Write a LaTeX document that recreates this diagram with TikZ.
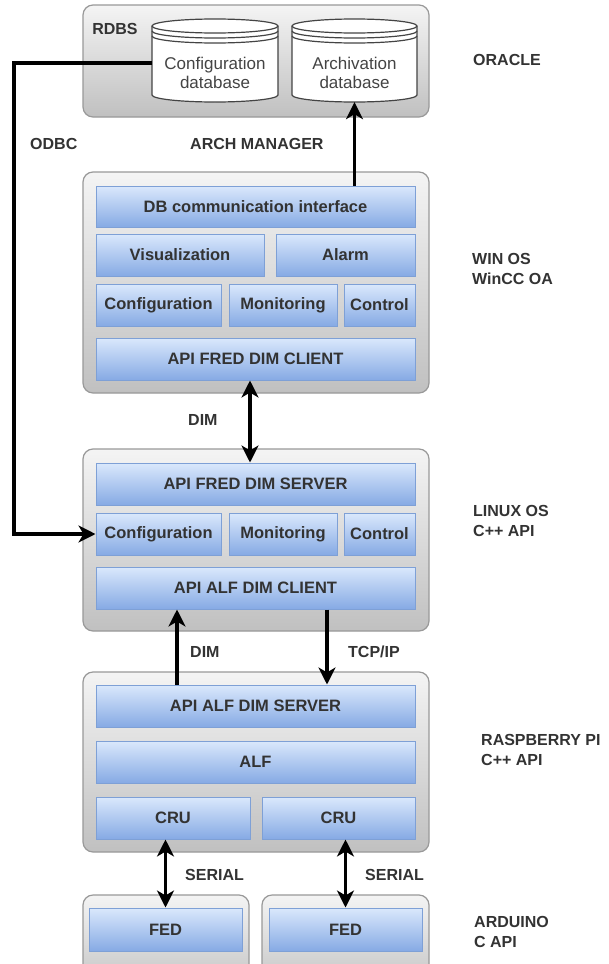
\documentclass[tikz,border=0pt]{standalone}
\usepackage{fontspec}
\setmainfont{Liberation Sans}
\usetikzlibrary{arrows.meta,calc}
\definecolor{txt}{HTML}{333333}
\definecolor{dbtxtc}{HTML}{444444}
\definecolor{obtop}{HTML}{F4F4F4}
\definecolor{obbot}{HTML}{C0C0C0}
\definecolor{obline}{HTML}{999999}
\definecolor{ibtop}{HTML}{DAE8FC}
\definecolor{ibbot}{HTML}{86AAE4}
\definecolor{ibline}{HTML}{7EA0D6}
\definecolor{cylline}{HTML}{444444}
\tikzset{
  ob/.style={draw=obline, line width=1.2pt, rounded corners=10pt, top color=obtop, bottom color=obbot, inner sep=0pt},
  ib/.style={draw=ibline, line width=1pt, top color=ibtop, bottom color=ibbot, inner sep=0pt,
    font=\fontsize{16.5}{20}\selectfont\bfseries, text=txt},
  lbl/.style={font=\fontsize{16}{20}\selectfont\bfseries, text=txt, inner sep=0pt, align=left},
  dbtxt/.style={font=\fontsize{17}{19}\selectfont, text=dbtxtc, inner sep=0pt, align=center},
  cylbox/.style={inner sep=0pt},
  arr/.style={line width=3.2pt, -{Stealth[length=17pt,width=17pt,inset=5pt]}},
  darr/.style={line width=3.2pt, {Stealth[length=17pt,width=17pt,inset=5pt]}-{Stealth[length=17pt,width=17pt,inset=5pt]}},
}
\newcommand\ibox[6]{\node[ib, minimum width={#4-#2}, minimum height={#5-#3}] (#1) at ({(#2+#4)/2},{-(#3+#5)/2}) {#6};}
\newcommand\obox[5]{\node[ob, minimum width={#4-#2}, minimum height={#5-#3}] (#1) at ({(#2+#4)/2},{-(#3+#5)/2}) {};}
% cylinder: name, L, R
\newcommand\cyl[3]{%
  \node[cylbox, minimum width={#3-#2}, minimum height=83] (#1) at ({(#2+#3)/2},-60.5) {};
  \pgfmathsetmacro\rx{(#3-#2)/2}
  \draw[cylline, line width=1.2pt, fill=white] (#2,-26) -- (#2,-95) arc[start angle=180, end angle=360, x radius=\rx, y radius=7] -- (#3,-26) arc[start angle=0, end angle=180, x radius=\rx, y radius=7] -- cycle;
  \draw[cylline, line width=1.2pt] (#2,-26) arc[start angle=180, end angle=360, x radius=\rx, y radius=7];
  \draw[cylline, line width=1.2pt] (#2,-31) arc[start angle=180, end angle=360, x radius=\rx, y radius=7];
  \draw[cylline, line width=1.2pt] (#2,-36) arc[start angle=180, end angle=360, x radius=\rx, y radius=7];
}
\begin{document}
\begin{tikzpicture}[x=1pt,y=1pt]
\useasboundingbox (0,0) rectangle (609,-964);
\clip (0,0) rectangle (609,-964);
\fill[white] (0,0) rectangle (609,-964);

% outer boxes
\obox{rdbs}{83}{5}{429}{117}
\obox{wincc}{83}{172}{429}{393}
\obox{linux}{83}{449}{429}{631}
\obox{rpi}{83}{672}{429}{852}
\obox{fedo1}{83}{895}{249}{995}
\obox{fedo2}{262}{895}{429}{995}

% databases
\cyl{cfg}{152}{278}
\cyl{arch}{292}{417}
\node[dbtxt] (cfgtxt) at (215,-72.5) {Configuration\\database};
\node[dbtxt] (archtxt) at (354.5,-72.5) {Archivation\\database};
\node[lbl] (rdbslbl) at (115,-29) {RDBS};

% WinCC OA
\ibox{dbci}{96}{186}{415}{227}{DB communication interface}
\ibox{vis}{96}{234}{264}{276}{Visualization}
\ibox{alarm}{276}{234}{415}{276}{Alarm}
\ibox{confa}{96}{284}{221}{326}{Configuration}
\ibox{mona}{229}{284}{337}{326}{Monitoring}
\ibox{ctrla}{344}{284}{415}{326}{Control}
\ibox{fredc}{96}{338}{415}{380}{API FRED DIM CLIENT}

% Linux
\ibox{freds}{96}{463}{415}{505}{API FRED DIM SERVER}
\ibox{confb}{96}{513}{221}{555}{Configuration}
\ibox{monb}{229}{513}{337}{555}{Monitoring}
\ibox{ctrlb}{344}{513}{415}{555}{Control}
\ibox{alfc}{96}{567}{415}{609}{API ALF DIM CLIENT}

% Raspberry
\ibox{alfs}{96}{685}{415}{727}{API ALF DIM SERVER}
\ibox{alf}{96}{741}{415}{783}{ALF}
\ibox{crua}{96}{797}{250}{839}{CRU}
\ibox{crub}{262}{797}{415}{839}{CRU}

% Arduino
\ibox{feda}{89}{908}{242}{951}{FED}
\ibox{fedb}{269}{908}{422}{951}{FED}

% connectors
\coordinate (odbcbend) at (14,-63);
\draw[arr] ([yshift=-2.5pt]cfg.west) -- (odbcbend) |- (confb.west);
\draw[arr] (arch.south |- dbci.north) -- (arch.south);
\draw[darr] ([xshift=-5.5pt]fredc.south) -- ([xshift=-5.5pt]freds.north);
\draw[arr] ([xshift=-78.5pt]alfs.north) -- ([xshift=-78.5pt]alfc.south);
\draw[arr] ([xshift=71.5pt]alfc.south) -- ([xshift=71.5pt]alfs.north);
\draw[darr] (crua.south -| feda.north) -- (feda.north);
\draw[darr] (crub.south -| fedb.north) -- (fedb.north);

% labels
\node[lbl, anchor=west] (oracle) at (473,-60) {ORACLE};
\node[lbl, anchor=west] (odbc) at (30,-144) {ODBC};
\node[lbl, anchor=west] (archmgr) at (190,-144) {ARCH MANAGER};
\node[lbl, anchor=west] (winos) at (472,-269) {WIN OS\\WinCC OA};
\node[lbl, anchor=west] (dima) at (188,-420) {DIM};
\node[lbl, anchor=west] (linuxos) at (473,-521) {LINUX OS\\C++ API};
\node[lbl, anchor=west] (dimb) at (190,-652) {DIM};
\node[lbl, anchor=west] (tcpip) at (348,-652) {TCP/IP};
\node[lbl, anchor=west] (rpilbl) at (481,-750) {RASPBERRY PI\\C++ API};
\node[lbl, anchor=west] (seriala) at (185,-875) {SERIAL};
\node[lbl, anchor=west] (serialb) at (365,-875) {SERIAL};
\node[lbl, anchor=west] (arduino) at (474,-932) {ARDUINO\\C API};
\end{tikzpicture}
\end{document}
